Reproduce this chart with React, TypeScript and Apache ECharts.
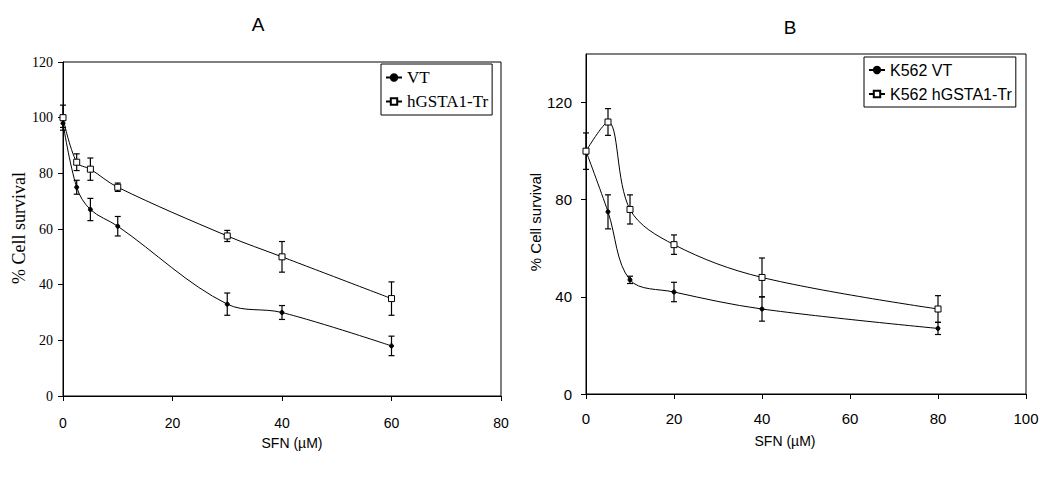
import React, { useEffect, useRef } from "react";
import * as echarts from "echarts";

// Panel A
const aDose = [0, 2.5, 5, 10, 30, 40, 60];
const aVT = [98, 75, 67, 61, 33, 30, 18];
const aVTErr = [1.5, 2.5, 4, 3.5, 4, 2.5, 3.5];
const aTr = [100, 84, 81.5, 75, 57.5, 50, 35];
const aTrErr = [4.5, 3, 4, 1.5, 2, 5.5, 6];

// Panel B
const bDose = [0, 5, 10, 20, 40, 80];
const bVT = [100, 75, 47, 42, 35, 27];
const bVTErr = [7.5, 7, 1.5, 4, 5, 2.5];
const bTr = [100, 112, 76, 61.5, 48, 35];
const bTrErr = [1, 5.5, 6, 4, 8, 5.5];
const bYTicks = [0, 40, 80, 120];

const SANS = '"Liberation Sans", Arial, sans-serif';
const SERIF = '"Liberation Serif", "Times New Roman", serif';

const pts = (xs: number[], ys: number[]) => xs.map((x, i) => [x, ys[i]]);
const errs = (xs: number[], ys: number[], es: number[]) =>
  xs.map((x, i) => [x, ys[i] - es[i], ys[i] + es[i]]);

const errRender = (params: any, api: any) => {
  const x = api.value(0);
  const lo = api.value(1);
  const hi = api.value(2);
  const p1 = api.coord([x, hi]);
  const p2 = api.coord([x, lo]);
  const w = 3;
  const st = { stroke: "#000", lineWidth: 1.2 };
  return {
    type: "group",
    children: [
      { type: "line", shape: { x1: p1[0], y1: p1[1], x2: p2[0], y2: p2[1] }, style: st },
      { type: "line", shape: { x1: p1[0] - w, y1: p1[1], x2: p1[0] + w, y2: p1[1] }, style: st },
      { type: "line", shape: { x1: p2[0] - w, y1: p2[1], x2: p2[0] + w, y2: p2[1] }, style: st },
    ],
  };
};

const lineSeries = (name: string, data: number[][], idx: number, hollow: boolean) => ({
  name,
  type: "line",
  xAxisIndex: idx,
  yAxisIndex: idx,
  data,
  smooth: 0.35,
  symbol: hollow ? "rect" : "circle",
  symbolSize: hollow ? 6 : 4,
  lineStyle: { color: "#000", width: 1 },
  itemStyle: hollow
    ? { color: "#fff", borderColor: "#000", borderWidth: 1 }
    : { color: "#000", borderColor: "#000", borderWidth: 1 },
  z: 3,
});

const errSeries = (data: number[][], idx: number) => ({
  type: "custom",
  xAxisIndex: idx,
  yAxisIndex: idx,
  data,
  renderItem: errRender,
  z: 2,
  silent: true,
});

export default function App() {
  const ref = useRef<HTMLDivElement>(null);
  useEffect(() => {
    if (!ref.current) return;
    const chart = echarts.init(ref.current, undefined, { renderer: "svg" });
    const axisLine = { show: true, lineStyle: { color: "#000", width: 1 } };
    const axisTick = { show: true, inside: false, length: 5, lineStyle: { color: "#000" } };
    chart.setOption({
      animation: false,
      backgroundColor: "#fff",
      grid: [
        { left: 63, top: 62, width: 438, height: 334, show: true, borderColor: "#000", borderWidth: 1 },
        { left: 586, top: 54, width: 440, height: 340, show: true, borderColor: "#000", borderWidth: 1 },
      ],
      xAxis: [
        {
          gridIndex: 0, type: "value", min: 0, max: 80, interval: 20,
          axisLine, axisTick, splitLine: { show: false },
          axisLabel: { color: "#000", fontFamily: SANS, fontSize: 14, margin: 20 },
        },
        {
          gridIndex: 1, type: "value", min: 0, max: 100, interval: 20,
          axisLine, axisTick, splitLine: { show: false },
          axisLabel: { color: "#000", fontFamily: SANS, fontSize: 15, margin: 17 },
        },
      ],
      yAxis: [
        {
          gridIndex: 0, type: "value", min: 0, max: 120, interval: 20,
          axisLine, axisTick, splitLine: { show: false },
          axisLabel: { color: "#000", fontFamily: SERIF, fontSize: 14, margin: 10 },
        },
        {
          gridIndex: 1, type: "value", min: 0, max: 140, interval: 40,
          axisLine, axisTick: { ...axisTick, customValues: bYTicks }, splitLine: { show: false },
          axisLabel: { color: "#000", fontFamily: SANS, fontSize: 15, margin: 14, customValues: bYTicks },
        },
      ],
      legend: [
        {
          data: ["VT", "hGSTA1-Tr"],
          orient: "vertical",
          left: 381, top: 64,
          borderColor: "#000", borderWidth: 1, borderRadius: 0,
          padding: [5, 4, 5, 4], itemGap: 7,
          itemWidth: 16, itemHeight: 8,
          textStyle: { color: "#000", fontFamily: SERIF, fontSize: 17 },
        },
        {
          data: ["K562 VT", "K562 hGSTA1-Tr"],
          orient: "vertical",
          left: 864, top: 57,
          borderColor: "#000", borderWidth: 1, borderRadius: 0,
          padding: [5, 4, 5, 4], itemGap: 8,
          itemWidth: 16, itemHeight: 8,
          textStyle: { color: "#000", fontFamily: SANS, fontSize: 16 },
        },
      ],
      series: [
        errSeries(errs(aDose, aVT, aVTErr), 0),
        errSeries(errs(aDose, aTr, aTrErr), 0),
        lineSeries("VT", pts(aDose, aVT), 0, false),
        lineSeries("hGSTA1-Tr", pts(aDose, aTr), 0, true),
        errSeries(errs(bDose, bVT, bVTErr), 1),
        errSeries(errs(bDose, bTr, bTrErr), 1),
        lineSeries("K562 VT", pts(bDose, bVT), 1, false),
        lineSeries("K562 hGSTA1-Tr", pts(bDose, bTr), 1, true),
      ],
      graphic: [
        { type: "text", x: 258, y: 24, style: { text: "A", fontFamily: SANS, fontSize: 19, fill: "#000", align: "center", verticalAlign: "middle" } },
        { type: "text", x: 790, y: 27, style: { text: "B", fontFamily: SANS, fontSize: 19, fill: "#000", align: "center", verticalAlign: "middle" } },
        { type: "text", x: 19, y: 228, rotation: Math.PI / 2, style: { text: "% Cell survival", fontFamily: SERIF, fontSize: 18, fill: "#000", align: "center", verticalAlign: "middle" } },
        { type: "text", x: 535, y: 222, rotation: Math.PI / 2, style: { text: "% Cell survival", fontFamily: SANS, fontSize: 15, fill: "#000", align: "center", verticalAlign: "middle" } },
        { type: "text", x: 292, y: 443, style: { text: "SFN (µM)", fontFamily: SANS, fontSize: 14, fill: "#000", align: "center", verticalAlign: "middle" } },
        { type: "text", x: 785, y: 441, style: { text: "SFN (µM)", fontFamily: SANS, fontSize: 14, fill: "#000", align: "center", verticalAlign: "middle" } },
      ],
    });
    return () => chart.dispose();
  }, []);
  return (
    <div
      ref={ref}
      style={{ position: "fixed", left: 0, top: 0, width: 1050, height: 485 }}
    />
  );
}
